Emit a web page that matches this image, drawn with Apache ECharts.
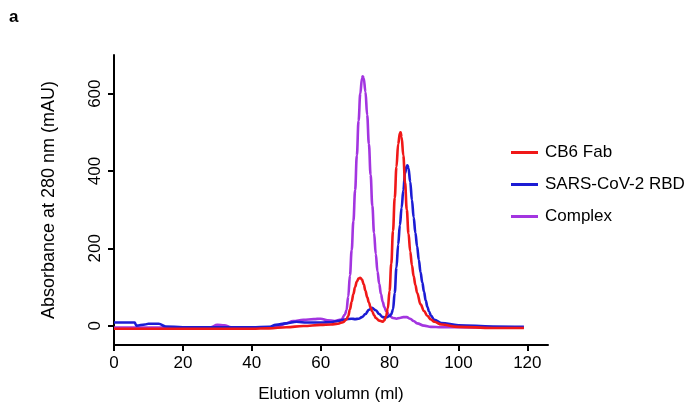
<!DOCTYPE html>
<html><head><meta charset="utf-8">
<script src="https://cdn.jsdelivr.net/npm/echarts@6/dist/echarts.min.js"></script>
<style>html,body{margin:0;padding:0;background:#fff}#c{width:700px;height:409px}</style>
</head><body><div id="c"></div>
<script>
var seriesNames = ['CB6 Fab', 'SARS-CoV-2 RBD', 'Complex'];
var xTicks = [0, 20, 40, 60, 80, 100, 120];
var yTicks = [0, 200, 400, 600];
var cb6Fab = [[0,-8],[10,-8],[20,-8],[30,-8],[40,-8],[45,-7],[50,-4],[55,-1],[60,2],[63,3],[65,5],[66.5,9],[67.5,16],[68,25],[68.5,42],[69,62],[69.5,82],[70,100],[70.5,114],[71,122],[71.5,124],[72,119],[72.5,107],[73,90],[73.5,74],[74,60],[74.5,47],[75,36],[75.5,27],[76,20],[77,13],[78,10],[78.5,14],[79,25],[79.5,45],[80,90],[80.5,160],[81,245],[81.5,330],[82,410],[82.5,470],[83,498],[83.2,500],[83.5,488],[84,440],[84.5,370],[85,300],[85.5,238],[86,192],[86.5,156],[87,128],[87.5,105],[88,85],[89,55],[90,38],[91,25],[92,16],[93,10],[95,3],[100,-3],[110,-6],[119,-6]];
var rbd = [[0,8],[6,8],[6.5,0],[9,3],[10,5],[13,5],[15,-2],[20,-4],[30,-4],[40,-4],[45,-3],[47,2],[50,6],[53,10],[56,8],[60,8],[63,9],[65,12],[67,16],[69,18],[70,17],[71,18],[72,22],[73,30],[74,41],[74.9,46],[76,40],[77,30],[78,22],[79,21],[80,25],[80.5,30],[81,42],[81.5,85],[82,150],[82.5,210],[83,260],[83.5,305],[84,350],[84.5,395],[85,413],[85.2,415],[85.5,407],[86,372],[86.5,325],[87,280],[87.5,240],[88,205],[88.5,170],[89,138],[89.5,112],[90,88],[90.5,65],[91,48],[91.5,36],[92,26],[93,15],[95,7],[100,1],[110,-2],[119,-3]];
var complex = [[0,-5],[10,-5],[20,-5],[28,-4],[30,2],[32,1],[34,-4],[40,-5],[45,-4],[48,0],[50,6],[52,12],[55,15],[58,17],[60,18],[62,14],[64,12],[66,16],[67,28],[67.5,40],[68,75],[68.5,130],[69,195],[69.5,270],[70,350],[70.5,440],[71,530],[71.5,600],[72,640],[72.2,645],[72.5,640],[73,605],[73.5,545],[74,470],[74.5,390],[75,310],[75.5,240],[76,185],[76.5,140],[77,108],[77.5,82],[78,62],[78.5,48],[79,38],[80,26],[81,20],[82,18],[83,20],[84,22],[85,22],[86,18],[87,12],[88,6],[90,0],[92,-3],[95,-4],[100,-4],[110,-5],[119,-5]];

var colors = {'CB6 Fab':'#f01818','SARS-CoV-2 RBD':'#1c1cd4','Complex':'#a335e0'};
var chart = echarts.init(document.getElementById('c'), null, {renderer:'canvas'});
var font = 'Liberation Sans, Arial, sans-serif';
function mk(name, data, z){
  return {name:name,type:'line',data:data,showSymbol:false,symbol:'none',smooth:0.4,smoothMonotone:'x',z:z,
    lineStyle:{color:colors[name],width:2.6},itemStyle:{color:colors[name]},animation:false};
}
chart.setOption({
  animation:false,
  grid:{left:114,right:152,top:55,bottom:64},
  graphic:[{type:'text',left:9,top:9,style:{text:'a',font:'bold 17px '+font,fill:'#000'}}],
  legend:{orient:'vertical',left:506,top:139,itemGap:15,itemWidth:27,itemHeight:3,icon:'rect',
    data:seriesNames,textStyle:{fontFamily:font,fontSize:17,color:'#000',padding:[0,0,0,2]}},
  xAxis:{type:'value',min:0,max:126,
    name:'Elution volumn (ml)',nameLocation:'middle',nameGap:41,
    nameTextStyle:{fontFamily:font,fontSize:17,color:'#000'},
    axisLine:{show:true,onZero:false,lineStyle:{color:'#000',width:2}},
    axisTick:{show:true,length:6,lineStyle:{color:'#000',width:2},customValues:xTicks},
    axisLabel:{color:'#000',fontFamily:font,fontSize:17,margin:10,customValues:xTicks},
    splitLine:{show:false}},
  yAxis:{type:'value',min:-50,max:700,
    name:'Absorbance at 280 nm (mAU)',nameLocation:'middle',nameGap:56,
    nameTextStyle:{fontFamily:font,fontSize:18,color:'#000'},
    axisLine:{show:true,onZero:false,lineStyle:{color:'#000',width:2}},
    axisTick:{show:true,length:6,lineStyle:{color:'#000',width:2},customValues:yTicks},
    axisLabel:{color:'#000',fontFamily:font,fontSize:17,margin:10,rotate:90,customValues:yTicks},
    splitLine:{show:false}},
  series:[mk('Complex',complex,2),mk('SARS-CoV-2 RBD',rbd,3),mk('CB6 Fab',cb6Fab,4)]
});
</script></body></html>
